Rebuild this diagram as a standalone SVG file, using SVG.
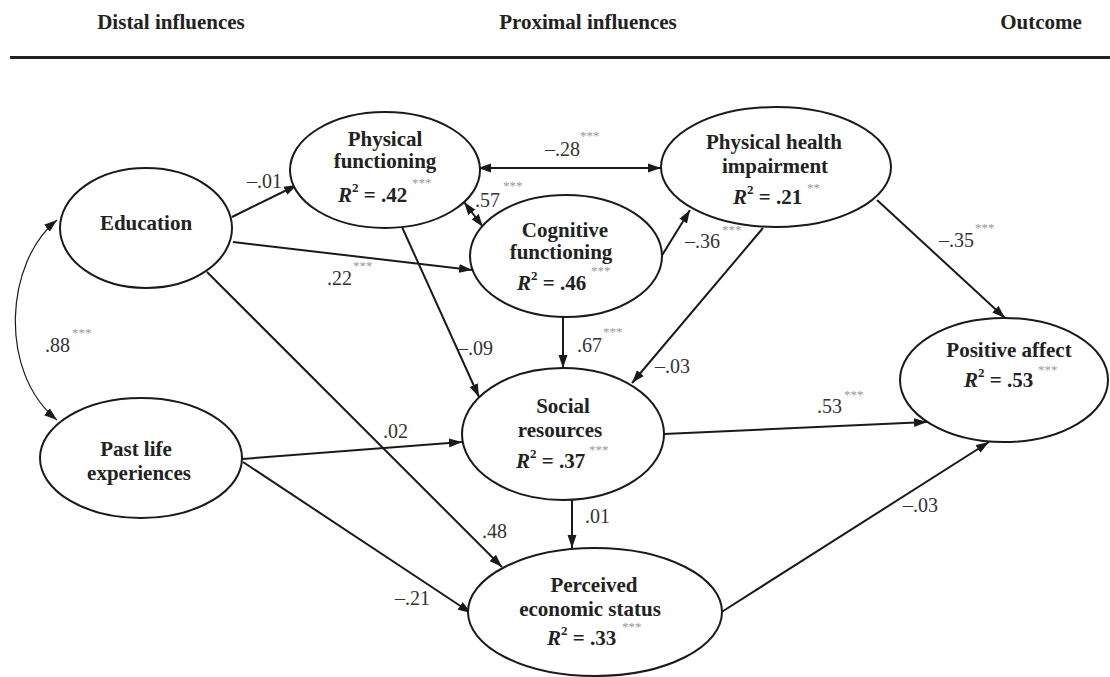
<svg xmlns="http://www.w3.org/2000/svg" width="1110" height="677" viewBox="0 0 1110 677">
<style>
.node ellipse{fill:#fff;stroke:#1a1a1a;stroke-width:2}
.lbl{font-family:"Liberation Serif","Times New Roman",serif;font-weight:bold;font-size:21px;fill:#222;text-anchor:middle}
.r2{font-family:"Liberation Serif","Times New Roman",serif;font-weight:bold;font-size:21px;fill:#222}
.hdr{font-family:"Liberation Serif","Times New Roman",serif;font-weight:bold;font-size:21px;fill:#222;text-anchor:middle}
.num{font-family:"Liberation Serif","Times New Roman",serif;font-size:20px;fill:#333}
.st{font-family:"Liberation Serif","Times New Roman",serif;font-size:13px;fill:#999}
.edge line,.edge path{stroke:#1a1a1a;stroke-width:2;fill:none;marker-end:url(#ah)}
.edge .dbl{marker-start:url(#ah)}
.edge .thin{stroke-width:1.2}
</style>
<defs>
<marker id="ah" markerUnits="userSpaceOnUse" markerWidth="14" markerHeight="10" refX="13" refY="5" orient="auto-start-reverse" viewBox="0 0 14 10">
<path d="M0,0.5 L13,5 L0,9.5 z" fill="#1a1a1a"/>
</marker>
</defs>
<rect width="1110" height="677" fill="#fff"/>
<g id="header">
<text class="hdr" x="171" y="29">Distal influences</text>
<text class="hdr" x="588" y="29">Proximal influences</text>
<text class="hdr" x="1041" y="29">Outcome</text>
<line x1="10" y1="57.5" x2="1110" y2="57.5" stroke="#222" stroke-width="3"/>
</g>
<g id="connectors" class="edge">
<line x1="232" y1="217" x2="297" y2="185"/>
<line x1="233" y1="242" x2="472" y2="270"/>
<line x1="207" y1="272" x2="502" y2="567"/>
<line x1="242" y1="459" x2="462" y2="442"/>
<line x1="243" y1="462" x2="471" y2="613"/>
<line x1="402" y1="227" x2="479" y2="397"/>
<line class="dbl" x1="478" y1="168" x2="661" y2="168"/>
<line class="dbl" x1="464" y1="202" x2="483" y2="227"/>
<line x1="661" y1="257" x2="690" y2="210"/>
<line x1="563" y1="317" x2="563" y2="368"/>
<line x1="763" y1="228" x2="632" y2="383"/>
<line x1="877" y1="200" x2="1005" y2="318"/>
<line x1="664" y1="434" x2="927" y2="422"/>
<line x1="572" y1="500" x2="572" y2="548"/>
<line x1="720" y1="613" x2="989" y2="442"/>
<path class="dbl thin" d="M57,220 C5,262 -2,372 57,420"/>
</g>
<g id="education" class="node">
<ellipse cx="146" cy="228" rx="86" ry="60"/>
<text class="lbl" x="146" y="230">Education</text>
</g>
<g id="physical-functioning" class="node">
<ellipse cx="385" cy="170" rx="95" ry="58"/>
<text class="lbl" x="385" y="146">Physical</text>
<text class="lbl" x="385" y="168">functioning</text>
<text class="r2" x="338" y="202"><tspan font-style="italic">R</tspan><tspan dy="-10" font-size="13">2</tspan><tspan dy="10"> = .42</tspan></text>
<text class="st" x="412" y="187">***</text>
</g>
<g id="cognitive-functioning" class="node">
<ellipse cx="566" cy="256" rx="96" ry="61"/>
<text class="lbl" x="565" y="237">Cognitive</text>
<text class="lbl" x="561" y="259">functioning</text>
<text class="r2" x="517" y="290"><tspan font-style="italic">R</tspan><tspan dy="-10" font-size="13">2</tspan><tspan dy="10"> = .46</tspan></text>
<text class="st" x="591" y="275">***</text>
</g>
<g id="physical-health-impairment" class="node">
<ellipse cx="776" cy="167" rx="115" ry="60"/>
<text class="lbl" x="774" y="149">Physical health</text>
<text class="lbl" x="775" y="173">impairment</text>
<text class="r2" x="733" y="204"><tspan font-style="italic">R</tspan><tspan dy="-10" font-size="13">2</tspan><tspan dy="10"> = .21</tspan></text>
<text class="st" x="807" y="192">**</text>
</g>
<g id="positive-affect" class="node">
<ellipse cx="1004" cy="380" rx="104" ry="62"/>
<text class="lbl" x="1009" y="357">Positive affect</text>
<text class="r2" x="964" y="387"><tspan font-style="italic">R</tspan><tspan dy="-10" font-size="13">2</tspan><tspan dy="10"> = .53</tspan></text>
<text class="st" x="1038" y="374">***</text>
</g>
<g id="past-life-experiences" class="node">
<ellipse cx="141" cy="458" rx="101" ry="60"/>
<text class="lbl" x="136" y="456">Past life</text>
<text class="lbl" x="139" y="480">experiences</text>
</g>
<g id="social-resources" class="node">
<ellipse cx="563" cy="434" rx="101" ry="66"/>
<text class="lbl" x="563" y="413">Social</text>
<text class="lbl" x="560" y="437">resources</text>
<text class="r2" x="516" y="468"><tspan font-style="italic">R</tspan><tspan dy="-10" font-size="13">2</tspan><tspan dy="10"> = .37</tspan></text>
<text class="st" x="589" y="454">***</text>
</g>
<g id="perceived-economic-status" class="node">
<ellipse cx="595" cy="612" rx="127" ry="64"/>
<text class="lbl" x="594" y="592">Perceived</text>
<text class="lbl" x="590" y="616">economic status</text>
<text class="r2" x="547" y="645"><tspan font-style="italic">R</tspan><tspan dy="-10" font-size="13">2</tspan><tspan dy="10"> = .33</tspan></text>
<text class="st" x="622" y="631">***</text>
</g>
<g id="edge-labels">
<text class="num" x="247" y="188">–.01</text>
<text class="num" x="327" y="285">.22</text><text class="st" x="353" y="270">***</text>
<text class="num" x="482" y="538">.48</text>
<text class="num" x="383" y="438">.02</text>
<text class="num" x="395" y="605">–.21</text>
<text class="num" x="458" y="355">–.09</text>
<text class="num" x="545" y="156">–.28</text><text class="st" x="580" y="140">***</text>
<text class="num" x="475" y="207">.57</text><text class="st" x="503" y="190">***</text>
<text class="num" x="577" y="352">.67</text><text class="st" x="603" y="336">***</text>
<text class="num" x="655" y="373">–.03</text>
<text class="num" x="685" y="248">–.36</text><text class="st" x="722" y="234">***</text>
<text class="num" x="939" y="247">–.35</text><text class="st" x="975" y="232">***</text>
<text class="num" x="817" y="413">.53</text><text class="st" x="844" y="399">***</text>
<text class="num" x="585" y="523">.01</text>
<text class="num" x="903" y="512">–.03</text>
<text class="num" x="45" y="352">.88</text><text class="st" x="72" y="337">***</text>
</g>
</svg>
